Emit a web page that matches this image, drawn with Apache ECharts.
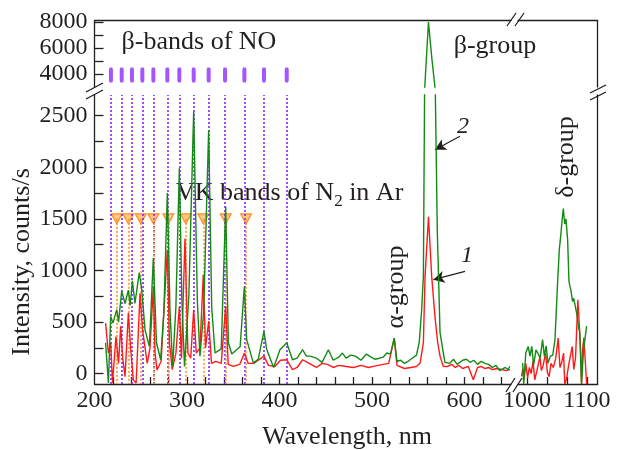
<!DOCTYPE html>
<html>
<head>
<meta charset="utf-8">
<script src="https://cdn.jsdelivr.net/npm/echarts@6/dist/echarts.min.js"></script>
<style>
html, body { margin: 0; padding: 0; background: #fff; }
#main { width: 625px; height: 450px; }
</style>
</head>
<body>
<div id="main"></div>
<script>
// spectrum 2 (green) and 1 (red), [wavelength nm, counts/s]
var greenLeft = [[212,300],[215,-90],[217.5,555],[220,490],[224,620],[226,500],[229.4,800],[233,680],[236.6,810],[238.5,660],[241,900],[243.7,680],[248.4,980],[251,820],[254.6,425],[259.3,265],[263.6,1120],[267,300],[271.5,135],[275,600],[278.7,1750],[281.6,620],[284.5,70],[288,650],[291.7,1990],[294.5,700],[297.3,70],[302,760],[307.2,2540],[311.2,700],[314,170],[318,600],[323.4,2360],[326.7,640],[330.3,200],[337,240],[341.8,1620],[344.7,300],[348.4,190],[357.4,260],[362,845],[364.5,330],[371.7,105],[377,140],[383.2,410],[386,240],[393.6,60],[400.5,232],[407.8,300],[414,135],[419,150],[425,232],[429,170],[433,170],[440,150],[446,110],[452.8,232],[458,130],[464,160],[468,200],[472,150],[477,180],[482,170],[488,130],[494,190],[499,160],[503,140],[508,150],[512,160],[516,200],[520,190],[524,345],[527,120],[531,130],[535,100],[539,120],[542,140],[548,180],[551,300],[553.5,600],[555.5,940],[557,3000],[561,8000],[564.5,5300],[568,3000],[570.5,1400],[572,900],[573.5,400],[576,260],[578.8,110],[584,100],[588,140],[592,90],[598,130],[602,140],[606,110],[610,130],[614,90],[618,120],[622,100],[626,90],[630,60],[634,80],[638,30],[644,60],[647,40],[649,70]];
var redLeft = [[212,490],[215,200],[217.5,300],[219.5,-90],[223.2,360],[226,100],[228.3,460],[230.5,150],[233,-30],[236.6,590],[239,250],[242,-60],[245,-90],[249.2,780],[252,420],[257,100],[260,250],[263.6,845],[265.5,200],[267.6,35],[272,120],[278.7,1200],[281,300],[284,40],[288,200],[291.7,650],[294,150],[297.8,1310],[301,200],[304,150],[307.2,620],[310,200],[314,250],[317.6,960],[320,250],[323.4,510],[326.5,100],[331,120],[337,100],[341.8,655],[344.5,90],[350,70],[357,90],[362,200],[366,100],[372,100],[377,130],[383.2,170],[388,80],[395,70],[401,130],[407.8,135],[414,40],[419,60],[425,135],[432,100],[440,60],[446,100],[452,90],[458,60],[464,80],[472,70],[480,60],[488,80],[496,60],[504,75],[512,90],[518,100],[524,345],[527,80],[535,50],[542,60],[548,70],[552,103],[555.5,300],[557.3,940],[561,1520],[564.5,940],[568,555],[571,300],[573.5,170],[577,71],[582,70],[586,90],[590,60],[594,80],[598,50],[604,70],[609.5,-58],[614,60],[618,70],[622,50],[626,60],[630,40],[635,50],[640,40],[645,30],[649,40]];
var greenRight = [[992.8,103],[994.5,-100],[998,200],[1002,264],[1005,170],[1008,264],[1011,80],[1015,230],[1018,200],[1022,150],[1026,330],[1029,170],[1032,270],[1035,100],[1039,170],[1043,180],[1046.7,330],[1050.5,810],[1053.9,1200],[1056.7,1360],[1058.5,1480],[1060.6,1600],[1063,1450],[1065,1500],[1067.8,1300],[1070,900],[1071.5,850],[1073.3,810],[1076,700],[1078,730],[1081.7,620],[1084,550],[1086,450],[1088,400],[1091,-100],[1094,200],[1096,300],[1099.5,460]];
var redRight = [[991,-26],[993,50],[995,-60],[998,100],[1001,-40],[1004,60],[1007,0],[1010,120],[1013,-60],[1017,40],[1021.7,168],[1024,30],[1027,80],[1031,200],[1034,10],[1037,-30],[1040,100],[1044,60],[1048,150],[1052,345],[1055,60],[1058,110],[1061,200],[1063,-100],[1066,-50],[1070,100],[1075.5,264],[1078,40],[1081,150],[1084.9,716],[1087,500],[1089,300],[1091,-100],[1093,250],[1095,350],[1097,150],[1099.5,-100]];

// band positions, nm
var noBands = [217.8, 229.4, 240.5, 251.7, 263.6, 278.7, 291.7, 307.2, 323.4, 341.1, 362, 383.2, 407.8];
var vkBands = [224, 236.5, 250, 263.6, 279.8, 298.6, 317.6, 341.8, 363.8];
var noLevel = 3920, vkLevel = 1500;

// ticks and labels
var yTicksTop = [4000, 5000, 6000, 7000, 8000];
var yLabelsTop = [4000, 6000, 8000];
var yTicksBot = [0, 250, 500, 750, 1000, 1250, 1500, 1750, 2000, 2250, 2500];
var yLabelsBot = [0, 500, 1000, 1500, 2000, 2500];
var xTicksLeft = [220, 240, 260, 280, 300, 320, 340, 360, 380, 400, 420, 440, 460, 480, 500, 520, 540, 560, 580, 600, 620, 640];
var xLabelsLeft = [200, 300, 400, 500, 600];
var xTicksRight = [1000, 1033.3, 1066.7, 1100];
var xLabelsRight = [1000, 1100];

var serif = '"Liberation Serif", "Times New Roman", serif';
var ink = '#231f20';
var green = '#138a13', red = '#ff1a1a';
var purple = '#8f2bff', orange = '#ff9526';

var myChart = echarts.init(document.getElementById('main'));

var axisLineStyle = { color: ink, width: 1.3 };
var none = { show: false };
var plain = function (v) { return String(v); };

function xAx(grid, min, max, pos, ticks, labels) {
	return {
		type: 'value', gridIndex: grid, min: min, max: max, position: pos,
		axisLine: { show: true, onZero: false, lineStyle: axisLineStyle },
		axisTick: ticks ? { show: true, inside: true, length: 7, customValues: ticks, lineStyle: { color: ink, width: 1.3 } } : none,
		axisLabel: labels ? { show: true, customValues: labels, formatter: plain, fontFamily: serif, fontSize: 24, color: ink, margin: 5 } : none,
		splitLine: none
	};
}
function yAx(grid, min, max, pos, ticks, labels) {
	return {
		type: 'value', gridIndex: grid, min: min, max: max, position: pos,
		axisLine: { show: true, onZero: false, lineStyle: axisLineStyle },
		axisTick: ticks ? { show: true, inside: true, length: 9, customValues: ticks, lineStyle: { color: ink, width: 1.3 } } : none,
		axisLabel: labels ? { show: true, customValues: labels, formatter: plain, fontFamily: serif, fontSize: 24, color: ink, margin: 7 } : none,
		splitLine: none
	};
}

var lineBase = { type: 'line', showSymbol: false, symbol: 'none', silent: true, animation: false, clip: true };

var option = {
	animation: false,
	grid: [
		{ left: 94.5, top: 20.7, width: 416.3, height: 66.3 },  // top left
		{ left: 518, top: 20.7, width: 79.7, height: 66.3 },    // top right
		{ left: 94.5, top: 95, width: 416.3, height: 289 },     // bottom left
		{ left: 518, top: 95, width: 79.7, height: 289 }        // bottom right
	],
	xAxis: [
		xAx(0, 200, 650, 'top', null, null),
		xAx(1, 985, 1118, 'top', null, null),
		xAx(2, 200, 650, 'bottom', xTicksLeft, xLabelsLeft),
		xAx(3, 985, 1118, 'bottom', xTicksRight, xLabelsRight)
	],
	yAxis: [
		yAx(0, 3000, 8100, 'left', yTicksTop, yLabelsTop),
		yAx(1, 3000, 8100, 'right', null, null),
		yAx(2, -100, 2700, 'left', yTicksBot, yLabelsBot),
		yAx(3, -100, 2700, 'right', null, null)
	],
	series: [
		// NO beta band guides (bottom panel)
		{
			type: 'line', xAxisIndex: 2, yAxisIndex: 2, data: [], silent: true, z: 1,
			markLine: {
				silent: true, symbol: 'none', label: { show: false },
				lineStyle: { color: purple, type: [2, 2], width: 2, opacity: 0.85 },
				data: noBands.map(function (v) { return { xAxis: v }; })
			}
		},
		// NO markers (top panel)
		{
			type: 'scatter', xAxisIndex: 0, yAxisIndex: 0, silent: true, z: 3,
			symbol: 'roundRect', symbolSize: [4, 15],
			itemStyle: { color: purple },
			data: noBands.map(function (v) { return [v, noLevel]; })
		},
		// VK bands: triangles + dotted drops
		{
			type: 'scatter', xAxisIndex: 2, yAxisIndex: 2, silent: true, z: 4,
			symbol: 'triangle', symbolRotate: 180, symbolSize: [11, 10],
			itemStyle: { color: '#ffb866', borderColor: '#ff7a00', borderWidth: 1.2 },
			data: vkBands.map(function (v) { return [v, vkLevel]; }),
			markLine: {
				silent: true, symbol: 'none', label: { show: false },
				lineStyle: { color: orange, type: [2, 2], width: 1.8, opacity: 0.9 },
				data: vkBands.map(function (v) { return [{ coord: [v, vkLevel] }, { coord: [v, -100] }]; })
			}
		},
		Object.assign({}, lineBase, { name: '1', xAxisIndex: 2, yAxisIndex: 2, z: 5, data: redLeft, lineStyle: { color: red, width: 1.4 } }),
		Object.assign({}, lineBase, { name: '2', xAxisIndex: 2, yAxisIndex: 2, z: 6, data: greenLeft, lineStyle: { color: green, width: 1.4 } }),
		Object.assign({}, lineBase, { name: '2', xAxisIndex: 0, yAxisIndex: 0, z: 6, data: greenLeft, lineStyle: { color: green, width: 1.4 } }),
		Object.assign({}, lineBase, { name: '1', xAxisIndex: 3, yAxisIndex: 3, z: 5, data: redRight, lineStyle: { color: red, width: 1.4 } }),
		Object.assign({}, lineBase, { name: '2', xAxisIndex: 3, yAxisIndex: 3, z: 6, data: greenRight, lineStyle: { color: green, width: 1.4 } }),
		// curve number arrows
		{
			type: 'line', xAxisIndex: 2, yAxisIndex: 2, data: [], silent: true, z: 7,
			markLine: {
				silent: true, symbol: ['none', 'arrow'], symbolSize: [9, 11], label: { show: false },
				lineStyle: { color: ink, type: 'solid', width: 1.2 },
				data: [
					[{ coord: [595, 2300] }, { coord: [568, 2170] }],
					[{ coord: [600.5, 991] }, { coord: [566.3, 911] }]
				]
			}
		}
	],
	graphic: [
		// axis breaks
		{ type: 'line', shape: { x1: 86, y1: 92, x2: 103, y2: 83 }, style: { stroke: ink, lineWidth: 1.3 } },
		{ type: 'line', shape: { x1: 86, y1: 99, x2: 103, y2: 90 }, style: { stroke: ink, lineWidth: 1.3 } },
		{ type: 'line', shape: { x1: 590, y1: 93, x2: 606, y2: 85 }, style: { stroke: ink, lineWidth: 1.3 } },
		{ type: 'line', shape: { x1: 590, y1: 100, x2: 606, y2: 92 }, style: { stroke: ink, lineWidth: 1.3 } },
		{ type: 'line', shape: { x1: 507, y1: 26, x2: 516, y2: 13 }, style: { stroke: ink, lineWidth: 1.3 } },
		{ type: 'line', shape: { x1: 515, y1: 26, x2: 524, y2: 13 }, style: { stroke: ink, lineWidth: 1.3 } },
		{ type: 'line', shape: { x1: 506, y1: 392, x2: 515, y2: 378 }, style: { stroke: ink, lineWidth: 1.3 } },
		{ type: 'line', shape: { x1: 513, y1: 392, x2: 522, y2: 378 }, style: { stroke: ink, lineWidth: 1.3 } },
		// annotations
		{ type: 'text', x: 199, y: 42, style: { text: 'β-bands of NO', font: '26px ' + serif, fill: ink, textAlign: 'center', textVerticalAlign: 'middle' } },
		{ type: 'text', x: 495, y: 46, style: { text: 'β-group', font: '26px ' + serif, fill: ink, textAlign: 'center', textVerticalAlign: 'middle' } },
		{
			type: 'text', x: 176, y: 180,
			style: {
				text: '{a|VK bands of N}{s|2}{a| in Ar}', fill: ink,
				rich: {
					a: { fontFamily: serif, fontSize: 26, lineHeight: 30, verticalAlign: 'top', fill: ink },
					s: { fontFamily: serif, fontSize: 17, lineHeight: 14, verticalAlign: 'bottom', fill: ink }
				}
			}
		},
		{ type: 'text', x: 396, y: 287, rotation: Math.PI / 2, style: { text: 'α-group', font: '26px ' + serif, fill: ink, textAlign: 'center', textVerticalAlign: 'middle' } },
		{ type: 'text', x: 566, y: 157, rotation: Math.PI / 2, style: { text: 'δ-group', font: '26px ' + serif, fill: ink, textAlign: 'center', textVerticalAlign: 'middle' } },
		{ type: 'text', x: 463, y: 127, style: { text: '2', font: 'italic 24px ' + serif, fill: ink, textAlign: 'center', textVerticalAlign: 'middle' } },
		{ type: 'text', x: 467, y: 256, style: { text: '1', font: 'italic 24px ' + serif, fill: ink, textAlign: 'center', textVerticalAlign: 'middle' } },
		{ type: 'text', x: 22, y: 262, rotation: Math.PI / 2, style: { text: 'Intensity, counts/s', font: '26px ' + serif, fill: ink, textAlign: 'center', textVerticalAlign: 'middle' } },
		{ type: 'text', x: 347, y: 437, style: { text: 'Wavelength, nm', font: '26px ' + serif, fill: ink, textAlign: 'center', textVerticalAlign: 'middle' } }
	]
};

myChart.setOption(option);
</script>
</body>
</html>
